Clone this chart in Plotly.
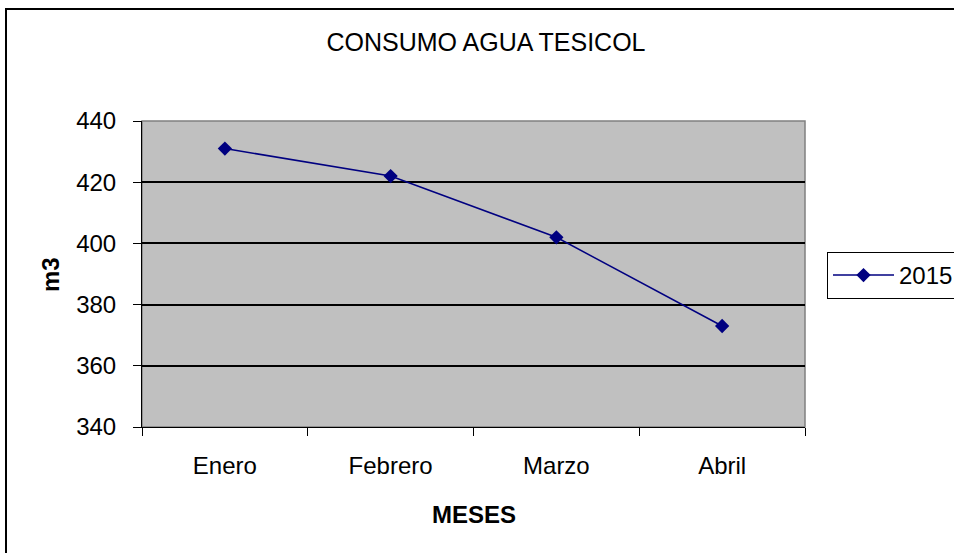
import plotly.graph_objects as go

months = ["Enero", "Febrero", "Marzo", "Abril"]
consumo_2015 = [431, 422, 402, 373]
y_ticks = [340, 360, 380, 400, 420, 440]

W, H = 954, 553
ML, MR, MT, MB = 142, 149, 121, 126
PW, PH = W - ML - MR, H - MT - MB

def px_x(p):
    return (p - ML) / PW

def px_y(p):
    return (H - MB - p) / PH

FONT = "Liberation Sans, Arial, sans-serif"
NAVY = "#000080"
FS = 24

fig = go.Figure()
fig.add_trace(go.Scatter(
    x=months, y=consumo_2015, name="2015", mode="lines+markers",
    line=dict(color=NAVY, width=1.5),
    marker=dict(symbol="diamond", size=11, color=NAVY),
))

fig.update_layout(
    width=W, height=H,
    margin=dict(l=ML, r=MR, t=MT, b=MB, autoexpand=False),
    paper_bgcolor="white", plot_bgcolor="#C0C0C0",
    font=dict(family=FONT, size=FS, color="black"),
    title=dict(text="CONSUMO AGUA TESICOL", x=486 / W, xanchor="center",
               y=1 - 42 / H, yanchor="middle",
               font=dict(family=FONT, size=25, color="black")),
    showlegend=True,
    legend=dict(xref="container", yref="container",
                x=827 / W, y=1 - 252 / H, xanchor="left", yanchor="top",
                bordercolor="black", borderwidth=1, bgcolor="white",
                font=dict(family=FONT, size=FS), itemwidth=61),
    xaxis=dict(
        type="category", tickson="boundaries", ticks="outside", ticklen=8,
        tickcolor="black", showline=True, linecolor="black", linewidth=1,
        showgrid=False, ticklabelstandoff=17,
        range=[-0.5, 3.5], fixedrange=True,
    ),
    yaxis=dict(
        range=[340, 440], tickvals=y_ticks, ticks="outside", ticklen=8,
        tickcolor="black", showline=True, linecolor="black", linewidth=1,
        showgrid=True, gridcolor="black", gridwidth=1.5, zeroline=False,
        ticklabelstandoff=12,
    ),
    annotations=[
        dict(text="<b>MESES</b>", xref="paper", yref="paper",
             x=px_x(474), y=px_y(514), xanchor="center", yanchor="middle",
             showarrow=False, font=dict(family=FONT, size=FS)),
        dict(text="<b>m3</b>", xref="paper", yref="paper",
             x=px_x(50), y=px_y(275), xanchor="center", yanchor="middle",
             textangle=-90, showarrow=False, font=dict(family=FONT, size=FS)),
    ],
    shapes=[
        dict(type="rect", xref="paper", yref="paper", x0=0, x1=1, y0=0, y1=1,
             line=dict(color="#808080", width=1.5), layer="between"),
        dict(type="rect", xref="paper", yref="paper",
             x0=px_x(6), x1=px_x(970), y0=px_y(570), y1=px_y(9),
             line=dict(color="black", width=2), layer="above"),
    ],
)

fig.write_html("out.html", config={"displayModeBar": False},
               post_script="document.body.style.margin='0px';")
